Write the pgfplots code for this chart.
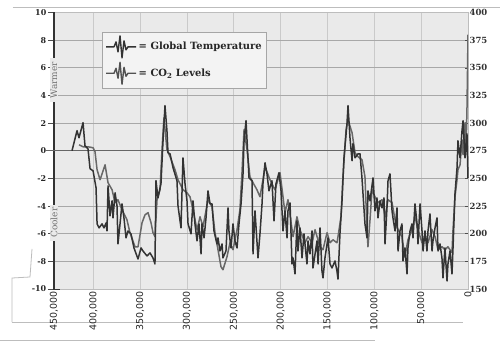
\documentclass[border=0pt]{standalone}
\usepackage{pgfplots}
\pgfplotsset{compat=1.18}
\usepackage{fontspec}
\setmainfont{DejaVu Serif}
\newfontfamily\sansx{DejaVu Sans}
\definecolor{bg}{HTML}{EAEAEA}
\definecolor{gridh}{HTML}{A8A8A8}
\definecolor{gridv}{HTML}{CACACA}
\definecolor{tempc}{HTML}{333333}
\definecolor{co2c}{HTML}{686868}
\definecolor{framec}{HTML}{BDBDBD}

\pgfplotsset{squiggle/.style={legend image code/.code={\draw[##1, line width=1.4bp, line join=round] (0bp,0bp) -- (8bp,0bp) -- (10bp,5bp) -- (12bp,-5bp) -- (14bp,11bp) -- (16bp,-11bp) -- (18bp,6bp) -- (20bp,-3bp) -- (22bp,0bp) -- (30bp,0bp);}}}

\pgfplotstableread{
age co2
415.3 280.4
411.0 278.6
405.7 278.6
400.3 277.7
398.2 274.1
396.0 257.8
392.8 248.8
387.5 262.3
384.3 246.1
380.0 239.7
376.8 228.0
373.7 230.7
369.4 221.7
364.1 212.6
360.9 200.9
355.5 188.2
352.3 188.2
348.0 209.9
344.8 217.1
341.6 219.0
338.4 209.9
336.3 200.9
334.2 197.3
332.0 230.7
328.8 239.7
326.7 275.9
324.6 304.8
321.4 275.9
318.1 269.6
312.8 257.8
309.6 248.8
304.3 239.7
300.0 237.0
296.8 233.4
293.6 221.7
289.3 203.6
286.1 215.3
282.9 206.3
277.6 230.7
273.3 224.4
270.1 200.9
266.9 185.5
263.7 170.1
261.6 167.4
257.3 179.2
254.1 191.8
250.9 185.5
246.6 203.6
243.5 221.7
241.3 255.1
239.1 294.0
235.9 275.9
232.8 251.5
229.5 246.1
225.3 239.7
222.1 233.4
218.9 248.8
216.7 260.5
211.4 248.8
206.1 239.7
200.7 255.1
195.4 219.0
192.2 230.7
186.8 197.3
182.6 215.3
179.4 203.6
174.0 191.8
170.8 197.3
166.5 191.8
163.3 203.6
158.0 188.2
154.8 185.5
150.5 200.9
147.3 191.8
144.1 194.5
139.9 191.8
138.8 197.3
135.6 215.3
133.5 251.5
130.2 294.0
128.1 303.0
123.8 291.3
120.6 273.2
117.4 269.6
113.2 266.9
110.0 251.5
107.8 203.6
106.8 188.2
104.6 212.6
102.5 239.7
99.3 233.4
96.1 228.0
91.8 230.7
88.6 215.3
85.4 230.7
81.1 228.0
77.9 212.6
74.7 203.6
70.5 197.3
67.3 179.2
64.1 194.5
59.8 203.6
56.6 215.3
53.4 203.6
49.1 191.8
45.9 197.3
42.7 191.8
38.4 203.6
35.2 197.3
32.0 185.5
27.8 188.2
24.6 185.5
21.4 188.2
17.1 182.8
16.0 203.6
13.9 233.4
11.7 248.8
10.7 257.8
8.5 262.3
6.4 284.9
5.3 271.4
3.2 300.3
2.1 275.9
1.1 312.1
0.0 380.0
}\coTwo

\pgfplotstableread{
age temp
422.8 0.0
417.4 1.45
415.3 0.94
411.0 2.03
408.9 0.36
405.7 0.14
403.5 -1.30
400.3 -1.45
397.1 -2.68
396.0 -5.29
393.9 -5.58
390.7 -5.29
388.6 -5.58
386.4 -5.22
385.4 -5.80
384.3 -2.54
382.2 -4.71
380.0 -3.62
379.0 -4.86
376.8 -3.04
374.7 -3.99
373.7 -6.74
371.5 -5.29
369.4 -3.84
367.3 -4.86
365.1 -6.30
363.0 -5.80
359.8 -6.01
356.6 -7.03
352.3 -7.83
349.1 -7.03
347.0 -7.25
342.7 -7.61
339.5 -7.39
336.3 -7.75
334.2 -8.19
333.1 -2.17
331.0 -3.41
327.8 -2.39
325.6 0.72
323.5 3.26
321.4 1.45
320.3 -0.14
318.1 -0.22
314.9 -1.23
310.7 -2.17
309.6 -3.99
306.4 -5.58
304.3 -0.51
302.1 -2.39
300.0 -3.62
298.9 -5.29
295.7 -6.01
293.6 -3.62
291.5 -5.29
289.3 -6.52
287.2 -5.29
285.0 -7.46
284.0 -5.29
281.8 -6.30
279.7 -4.86
277.6 -2.90
275.4 -3.84
273.3 -3.84
271.2 -5.80
268.0 -6.74
266.9 -6.30
264.8 -7.25
262.6 -6.74
261.6 -7.75
258.4 -7.25
256.2 -4.13
255.2 -5.80
253.0 -7.03
250.9 -5.29
248.8 -6.52
246.6 -7.03
244.5 -5.29
242.3 -3.84
240.2 -1.67
239.1 0.72
237.0 2.17
234.9 -0.51
233.8 -1.96
230.6 -2.17
229.5 -7.46
227.4 -4.35
224.2 -7.75
222.1 -6.01
219.9 -3.84
218.9 -2.39
216.7 -0.87
214.6 -1.67
212.5 -2.90
209.3 -2.17
207.1 -5.07
205.0 -2.39
201.8 -1.59
199.6 -2.90
197.5 -5.80
195.4 -4.35
193.2 -6.30
192.2 -4.35
190.0 -3.77
187.9 -8.19
186.8 -7.75
184.7 -8.91
182.6 -5.07
181.5 -7.25
179.4 -5.58
177.2 -7.75
175.1 -6.01
171.9 -8.19
170.8 -6.52
168.7 -7.46
166.5 -5.80
165.5 -8.48
161.2 -6.52
160.1 -8.19
158.0 -5.58
155.9 -8.70
154.8 -9.20
152.7 -7.75
149.5 -6.30
147.3 -8.19
145.2 -8.48
142.0 -7.97
139.9 -8.70
138.8 -9.28
136.7 -6.01
134.5 -3.62
132.4 -0.51
129.2 1.96
128.1 3.26
126.0 0.94
123.8 -0.72
122.8 0.51
120.6 -0.51
117.4 -0.22
115.3 -0.22
113.2 -1.96
110.0 -5.29
107.8 -6.30
106.8 -2.90
104.6 -3.62
101.4 -1.96
99.3 -4.35
97.2 -3.41
96.1 -4.86
93.9 -3.62
91.8 -4.13
89.7 -3.41
88.6 -6.74
86.5 -4.13
85.4 -2.17
83.3 -1.67
81.1 -4.35
80.1 -4.86
77.9 -5.80
75.8 -4.13
74.7 -7.25
72.6 -5.80
70.5 -5.29
69.4 -7.97
67.3 -7.03
65.1 -8.91
64.1 -7.03
61.9 -5.80
59.8 -5.29
58.7 -6.30
56.6 -3.84
54.4 -5.29
53.4 -6.74
51.2 -3.84
49.1 -5.80
48.0 -7.25
45.9 -5.80
43.8 -7.25
42.7 -5.80
40.6 -4.57
38.4 -7.25
37.4 -6.52
35.2 -5.58
33.1 -4.86
32.0 -7.25
29.9 -6.74
27.8 -7.75
26.7 -9.20
24.6 -7.03
22.4 -9.42
21.4 -8.19
19.2 -7.25
17.1 -8.91
16.0 -7.03
13.9 -3.12
11.7 -1.23
10.7 0.72
8.5 -0.51
6.4 1.45
5.3 2.17
3.2 -0.51
1.1 1.23
0.0 -1.96
}\tempTab

\begin{document}
\begin{tikzpicture}
\useasboundingbox (-54bp,-60bp) rectangle (446bp,289bp);
\fill[white] (-54bp,-60bp) rectangle (446bp,289bp);
% faint frame lines of the scanned page
\draw[framec, line width=0.8bp] (-41bp,282bp) -- (446bp,282bp);
\draw[framec, line width=0.8bp] (-42bp,-33bp) -- (409bp,-33bp);
\draw[framec, line width=0.8bp] (-54bp,-51bp) -- (321bp,-51bp);
\draw[framec, line width=0.8bp] (-42bp,-33bp) -- (-42bp,11bp) -- (-24bp,12bp) -- (-22bp,40bp);

\begin{axis}[
  at={(0,0)}, anchor=south west, scale only axis,
  width=414bp, height=276.5bp,
  xmin=0, xmax=442, x dir=reverse,
  ymin=150, ymax=400,
  axis background/.style={fill=bg},
  axis line style={framec, line width=0.7bp},
  xtick={0,50,100,150,200,250,300,350,400,442},
  xticklabels={0,{50,000},{100,000},{150,000},{200,000},{250,000},{300,000},{350,000},{400,000},{450,000}},
  x tick label style={rotate=90, anchor=east, font=\sansx\fontsize{9.5}{10}\selectfont, text=black!85, inner sep=2bp},
  xtick pos=bottom,
  x tick style={draw=none},
  ytick={150,175,200,225,250,275,300,325,350,375,400},
  yticklabels={150,175,200,225,250,275,300,325,350,375,400},
  ytick pos=right, yticklabel pos=right,
  y tick label style={font=\bfseries\fontsize{8.5}{9}\selectfont, text=black!80, inner sep=1.5bp},
  y tick style={black!70, line width=0.6bp},
  major tick length=3bp,
  xmajorgrids, ymajorgrids,
  x grid style={gridv, line width=0.8bp},
  y grid style={gridh, line width=0.8bp},
]
\addplot[co2c, line width=1.5bp, line join=round, mark=none] table[x=age, y=co2] {\coTwo};
\end{axis}

\begin{axis}[
  at={(0,0)}, anchor=south west, scale only axis,
  width=414bp, height=276.5bp,
  xmin=0, xmax=442, x dir=reverse,
  ymin=-10, ymax=10,
  axis x line=none, axis y line*=left,
  y axis line style={draw=none},
  clip=false,
  tick align=outside,
  ytick={-10,-8,-6,-4,-2,0,2,4,6,8,10},
  yticklabels={-10,-8,-6,-4,-2,0,2,4,6,8,10},
  y tick label style={font=\bfseries\fontsize{8}{9}\selectfont, text=black!85, inner sep=1.5bp},
  y tick style={black!70, line width=0.6bp},
  major tick length=6bp,
  legend style={at={(0.116,0.93)}, anchor=north west,
    fill=bg!55!white, draw=black!35, line width=0.6bp,
    font=\bfseries\fontsize{10}{11}\selectfont, text=black!85,
    row sep=3bp, inner xsep=3bp, inner ysep=3bp,
    cells={anchor=west}},
]
\draw[tempc, line width=1.8bp] (axis cs:442,-10) -- (axis cs:442,10);
\draw[tempc, line width=1bp] ([xshift=-1bp]axis cs:442,-10) -- ([xshift=6bp]axis cs:442,-10);
\draw[black!60, line width=1.3bp] ([xshift=-9bp]axis cs:442,0) -- (axis cs:0,0);
\node[rotate=90, fill=bg, text=black!55, font=\fontsize{9}{10}\selectfont, inner xsep=4bp, inner ysep=0.5bp] at (axis cs:442,5.1) {Warmer};
\node[rotate=90, fill=bg, text=black!55, font=\fontsize{9}{10}\selectfont, inner xsep=3bp, inner ysep=0.5bp] at (axis cs:442,-5.2) {Cooler};
\addplot[tempc, line width=1.5bp, line join=round, mark=none, forget plot] table[x=age, y=temp] {\tempTab};
\addlegendimage{tempc, squiggle}
\addlegendentry{= Global Temperature}
\addlegendimage{tempc!85, squiggle}
\addlegendentry{= CO\textsubscript{2} Levels}
\end{axis}
\end{tikzpicture}
\end{document}
